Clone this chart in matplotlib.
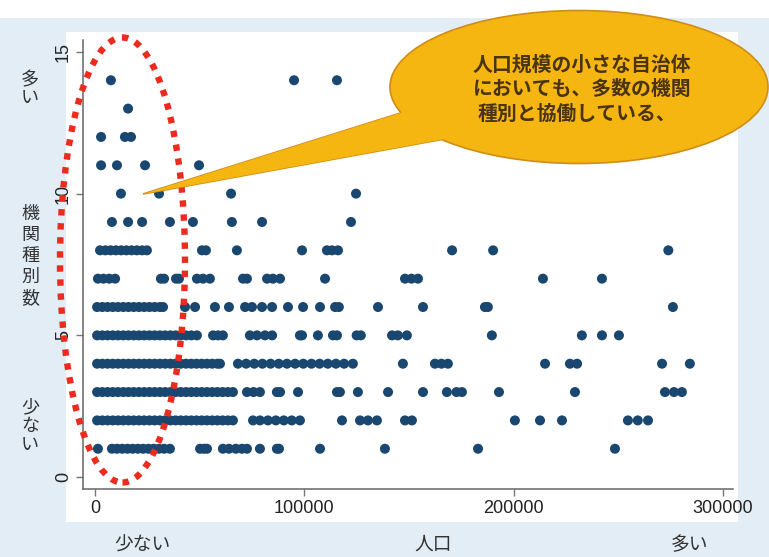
import matplotlib
matplotlib.use("Agg")
import matplotlib.pyplot as plt
from matplotlib.patches import Ellipse, Polygon, Rectangle

# ---- data: population (x) of municipalities for each count of partner agency types (y)
pop_k1 = [1400, 8100, 10500, 13000, 15500, 18000, 20500, 23000, 25500, 28000, 30500, 33000, 35800,
          50200, 52100, 53500, 61100, 64000, 67300, 70200, 72600, 78800, 86900, 87900,
          107500, 138500, 183000, 248400]
pop_k2 = [1000, 3500, 6000, 8500, 11000, 13500, 16000, 18500, 21000, 23500, 26000, 28500, 31000,
          33500, 36000, 38500, 41000, 43500, 46000, 48500, 51000, 53500, 56000, 58500, 61000,
          63500, 65900, 75500, 78800, 82600, 86400, 90200, 94000, 97900, 118000, 126600, 130400,
          134700, 148100, 151400, 200600, 212600, 223100, 254600, 259300, 264200]
pop_k3 = [1000, 3500, 6000, 8500, 11000, 13500, 16000, 18500, 21000, 23500, 26000, 28500, 31000,
          33500, 36000, 38500, 41000, 43500, 46000, 48500, 51000, 53500, 56000, 58500, 61000,
          63500, 65900, 72600, 75700, 78800, 86900, 88400, 97000, 115600, 117000, 125600,
          140000, 156700, 168100, 172700, 175300, 193000, 229300, 272300, 276600, 280400]
pop_k4 = [1000, 3500, 6000, 8500, 11000, 13500, 16000, 18500, 21000, 23500, 26000, 28500, 31000,
          33500, 36000, 38500, 41000, 43500, 46000, 48500, 51000, 53500, 56000, 58500, 59700,
          68300, 72200, 76100, 80000, 83900, 87800, 91700, 95600, 99500, 103400, 107300, 111200,
          115100, 119000, 123200, 147100, 162400, 165500, 168600, 215000, 226900, 230300,
          270900, 284200]
pop_k5 = [1000, 3500, 6000, 8500, 11000, 13500, 16000, 18500, 21000, 23500, 26000, 28500, 31000,
          33500, 36000, 38500, 41000, 43500, 46000, 48700, 56400, 58800, 61100, 74000, 77400,
          81200, 84600, 97900, 98900, 106500, 113700, 115600, 125000, 127000, 141900, 144700,
          149000, 189600, 232600, 242200, 250300]
pop_k6 = [1000, 3500, 6000, 8500, 11000, 13500, 16000, 18500, 21000, 23500, 26000, 28500, 31000,
          32500, 43000, 47800, 57300, 64000, 71700, 75000, 79800, 84600, 92200, 99400, 107500,
          114700, 116500, 135200, 156700, 186300, 187700, 276100]
pop_k7 = [1400, 4000, 6800, 9600, 31500, 33000, 38700, 40100, 48700, 51600, 54900, 70700, 72600,
          82200, 85000, 88400, 109900, 148100, 151200, 154300, 214000, 242200]
pop_k8 = [2400, 5000, 7500, 10000, 12500, 15000, 17500, 20000, 22500, 24800, 51100, 53000, 67800,
          98900, 110800, 113200, 116100, 170600, 190200, 273900]
pop_k9 = [8100, 15800, 22500, 35800, 46800, 65400, 79800, 122300]
pop_k10 = [12400, 30600, 65000, 124700]
pop_k11 = [2900, 10500, 23900, 49700]
pop_k12 = [2900, 14300, 17200]
pop_k13 = [15800]
pop_k14 = [7600, 95100, 115600]

counts = list(range(1, 15))
rows = [pop_k1, pop_k2, pop_k3, pop_k4, pop_k5, pop_k6, pop_k7, pop_k8, pop_k9,
        pop_k10, pop_k11, pop_k12, pop_k13, pop_k14]

x_ticks = [0, 100000, 200000, 300000]
x_ticklabels = ["0", "100000", "200000", "300000"]
y_ticks = [0, 5, 10, 15]
y_ticklabels = ["0", "5", "10", "15"]

callout_lines = ["人口規模の小さな自治体", "においても、多数の機関", "種別と協働している、"]
ylab_top = "多い"
ylab_mid = "機関種別数"
ylab_bot = "少ない"
xlab_left = "少ない"
xlab_mid = "人口"
xlab_right = "多い"

W, H = 769, 557
def fx(x):
    return x / W
def fy(y):
    return 1 - y / H

JP = ["Noto Sans CJK JP", "DejaVu Sans"]

fig = plt.figure(figsize=(W / 100, H / 100), dpi=100)
fig.patch.set_facecolor("#e2edf6")
# white strip at the top and white plot region
fig.add_artist(Rectangle((0, fy(18)), 1, 18 / H, transform=fig.transFigure,
                         facecolor="white", edgecolor="none", zorder=0))
fig.add_artist(Rectangle((fx(66), fy(522)), (738 - 66) / W, (522 - 32) / H,
                         transform=fig.transFigure, facecolor="white", edgecolor="none", zorder=0))

ax = fig.add_axes([fx(83), fy(489), (733 - 83) / W, (489 - 40) / H])
ax.patch.set_alpha(0)

navy = "#1a476f"
for k, xs in zip(counts, rows):
    ax.scatter(xs, [k] * len(xs), s=52, color=navy, edgecolors="none", zorder=3)

ax.set_xlim(-5730, 304800)
ax.set_ylim(-0.42, 15.42)
ax.set_xticks(x_ticks)
ax.set_xticklabels(x_ticklabels, family="Liberation Sans", fontsize=13, color="#222222")
ax.set_yticks(y_ticks)
ax.set_yticklabels(y_ticklabels, family="Liberation Sans", fontsize=13, color="#222222",
                   rotation=90, va="center")
ax.tick_params(direction="out", length=5, width=1, color="#777777", pad=3)
for s in ["top", "right"]:
    ax.spines[s].set_visible(False)
for s in ["left", "bottom"]:
    ax.spines[s].set_color("#666666")
    ax.spines[s].set_linewidth(1.1)

# vertical Japanese y labels
def vtext(chars, xc, y_first, step, size):
    for i, ch in enumerate(chars):
        fig.text(fx(xc), fy(y_first + i * step), ch, family=JP, fontsize=size,
                 ha="center", va="center", color="#333333")

vtext(ylab_top, 30, 80, 18, 13)
vtext(ylab_mid, 30, 214, 21, 13)
vtext(ylab_bot, 30, 407, 19, 13)

fig.text(fx(142), fy(545), xlab_left, family=JP, fontsize=13.5, ha="center", va="center", color="#333333")
fig.text(fx(433), fy(544), xlab_mid, family=JP, fontsize=13.5, ha="center", va="center", color="#333333")
fig.text(fx(690), fy(545), xlab_right, family=JP, fontsize=13.5, ha="center", va="center", color="#333333")

# red dotted ellipse around small municipalities
red_ell = Ellipse((fx(122.5), fy(260)), 125 / W, 445 / H, transform=fig.transFigure,
                  facecolor="none", edgecolor="#ec2b1f", linewidth=4.6,
                  linestyle=(0, (1.0, 1.2)), zorder=5)
fig.add_artist(red_ell)

# callout bubble
gold = "#f6b612"
edge = "#cf8d17"
tail_pts = [(fx(143), fy(194)), (fx(410), fy(110)), (fx(450), fy(138))]
fig.add_artist(Polygon(tail_pts, closed=True, transform=fig.transFigure,
                       facecolor=gold, edgecolor=edge, linewidth=1.2, zorder=6))
fig.add_artist(Ellipse((fx(579), fy(87)), 378 / W, 153 / H, transform=fig.transFigure,
                       facecolor=gold, edgecolor=edge, linewidth=1.2, zorder=7))
fig.add_artist(Polygon(tail_pts, closed=True, transform=fig.transFigure,
                       facecolor=gold, edgecolor="none", zorder=8))
for i, (line, xc) in enumerate(zip(callout_lines, [582, 582, 577])):
    fig.text(fx(xc), fy(64 + i * 24.5), line, family=JP, fontsize=14.3, fontweight="bold",
             ha="center", va="center", color="#4a3410", zorder=9)

fig.savefig("out.png", dpi=100, facecolor=fig.get_facecolor())
